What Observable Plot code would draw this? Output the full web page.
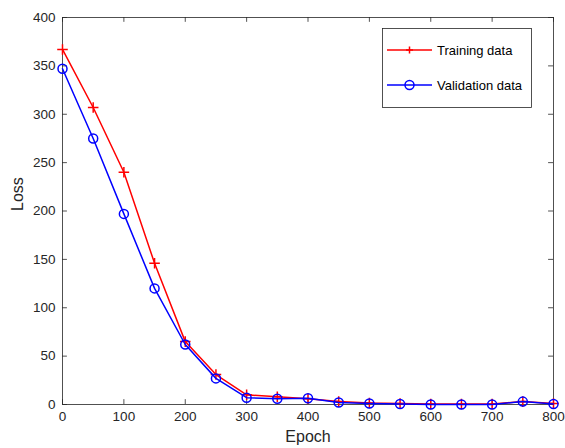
<!DOCTYPE html>
<html><head><meta charset="utf-8">
<script src="https://cdn.jsdelivr.net/npm/d3@7"></script>
<script src="https://cdn.jsdelivr.net/npm/@observablehq/plot@0.6"></script>
<style>
body{margin:0;background:#fff;}
#wrap{position:relative;width:565px;height:448px;overflow:hidden;}
#legend{position:absolute;left:0;top:0;}
</style></head><body><div id="wrap"></div>
<script>
const epochs = [0,50,100,150,200,250,300,350,400,450,500,550,600,650,700,750,800];
const training = [367,307,240,146,65,31,10,8,6,3,1.5,1,0.5,0.5,0.5,3,1];
const validation = [347,275,197,120,62,27,7,6,6.5,2,1,0.5,0,0,0,3,0.5];
const xTicks = [0,100,200,300,400,500,600,700,800];
const yTicks = [0,50,100,150,200,250,300,350,400];
const seriesNames = ["Training data","Validation data"];

const tr = epochs.map((e,i)=>({epoch:e, loss:training[i]}));
const va = epochs.map((e,i)=>({epoch:e, loss:validation[i]}));
const ink = "#262626";

const chart = Plot.plot({
  width:565, height:448,
  marginLeft:62, marginRight:12, marginTop:17, marginBottom:44,
  style:{fontFamily:"'Liberation Sans', Arial, sans-serif", fontSize:"13px", color:ink, background:"#fff", overflow:"visible"},
  x:{domain:[0,800]},
  y:{domain:[0,400]},
  marks:[
    Plot.axisX(xTicks,{tickSize:0, tickPadding:7, label:null, fontSize:13.5, fill:ink}),
    Plot.axisY(yTicks,{tickSize:0, tickPadding:7, label:null, fontSize:13.5, fill:ink}),
    Plot.ruleX(xTicks,{y1:0, y2:5, stroke:ink, strokeWidth:0.8}),
    Plot.ruleX(xTicks,{y1:395, y2:400, stroke:ink, strokeWidth:0.8}),
    Plot.ruleY(yTicks,{x1:0, x2:8, stroke:ink, strokeWidth:0.8}),
    Plot.ruleY(yTicks,{x1:792, x2:800, stroke:ink, strokeWidth:0.8}),
    Plot.frame({stroke:ink, strokeWidth:0.8}),
    Plot.line(tr,{x:"epoch", y:"loss", stroke:"#ff0000", strokeWidth:1.5}),
    Plot.dot(tr,{x:"epoch", y:"loss", symbol:"plus", r:3.5, stroke:"#ff0000", strokeWidth:1.5}),
    Plot.line(va,{x:"epoch", y:"loss", stroke:"#0000ff", strokeWidth:1.5}),
    Plot.dot(va,{x:"epoch", y:"loss", symbol:"circle", r:4.5, stroke:"#0000ff", fill:"none", strokeWidth:1.5}),
    Plot.text(["Epoch"],{frameAnchor:"bottom", dy:37, fontSize:16, fill:ink}),
    Plot.text(["Loss"],{frameAnchor:"left", dx:-45, rotate:-90, fontSize:16, fill:ink})
  ]
});
document.getElementById("wrap").appendChild(chart);

// legend overlay
const lg = d3.select("#wrap").append("svg").attr("id","legend").attr("width",565).attr("height",448);
lg.append("rect").attr("x",382.5).attr("y",28.5).attr("width",149).attr("height",79)
  .attr("fill","#fff").attr("stroke",ink).attr("stroke-width",0.8);
const items = [{name:seriesNames[0], color:"#ff0000", sym:"plus", y:50},{name:seriesNames[1], color:"#0000ff", sym:"circle", y:85}];
items.forEach(it=>{
  lg.append("line").attr("x1",387).attr("x2",432).attr("y1",it.y).attr("y2",it.y).attr("stroke",it.color).attr("stroke-width",1.5);
  if(it.sym==="circle"){
    lg.append("circle").attr("cx",409.5).attr("cy",it.y).attr("r",4.5).attr("fill","none").attr("stroke",it.color).attr("stroke-width",1.5);
  } else {
    lg.append("path").attr("d",`M406,${it.y}h7M409.5,${it.y-3.5}v7`).attr("stroke",it.color).attr("stroke-width",1.5);
  }
  lg.append("text").attr("x",437).attr("y",it.y).attr("dy","0.35em").attr("font-family","'Liberation Sans', Arial, sans-serif")
    .attr("font-size",13).attr("fill","#000").text(it.name);
});
</script></body></html>
